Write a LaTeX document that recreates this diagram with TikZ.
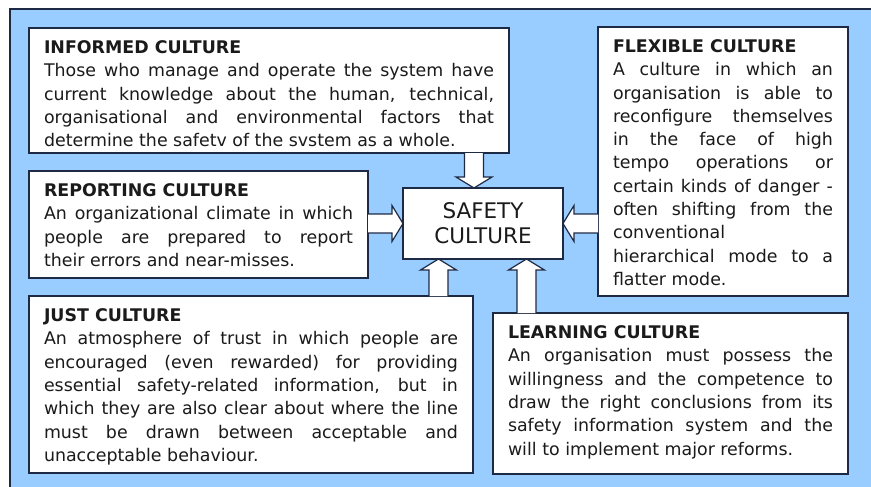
\documentclass[tikz,border=0pt]{standalone}
\usepackage{fontspec}
\setmainfont{DejaVu Sans}
\usetikzlibrary{calc}
\definecolor{bgblue}{HTML}{99CCFF}
\definecolor{edge}{HTML}{1E2A44}
\definecolor{ink}{HTML}{1A1A1A}
\tolerance=10000
\hyphenpenalty=10000
\newcommand\culturearrow[2]{%
  \coordinate (ca-h) at ($(#2)!11pt!(#1)$);
  \filldraw[arrowbody]
    ($(#1)!9.5pt!90:(#2)$) -- ($(ca-h)!9.5pt!90:(#2)$) -- ($(ca-h)!18pt!90:(#2)$)
    -- (#2) -- ($(ca-h)!18pt!-90:(#2)$) -- ($(ca-h)!9.5pt!-90:(#2)$)
    -- ($(#1)!9.5pt!-90:(#2)$);
}
\begin{document}
\begin{tikzpicture}[x=1pt,y=-1pt,
  cbox/.style={draw=edge, line width=1.2pt, fill=white, anchor=north west,
    inner xsep=15pt, inner ysep=0pt, outer sep=0pt, align=justify, text=ink,
    text height=25.5pt, font=\fontsize{17.4}{23.3}\selectfont},
  centrebox/.style={draw=edge, line width=1.2pt, fill=white, anchor=north west,
    minimum width=160pt, minimum height=71pt, inner sep=0pt, outer sep=0pt,
    align=center, text=ink, font=\fontsize{21.5}{25}\selectfont},
  arrowbody/.style={draw=edge, fill=white, line width=1.2pt, line join=miter}]
\useasboundingbox (0,0) rectangle (871,487);
\fill[bgblue] (10,9) rectangle (871,487);
\draw[edge, line width=1.3pt] (10,487) -- (10,9) -- (871,9);

\node[cbox, text width=450pt, text depth=99.5pt] (inf) at (29,28)
 {\textbf{INFORMED CULTURE}\\
  Those who manage and operate the system have\linebreak
  current knowledge about the human, technical,\linebreak
  organisational and environmental factors that\linebreak
  determine the safetv of the svstem as a whole.};

\node[cbox, text width=309pt, text depth=81.5pt] (rep) at (29,171)
 {\textbf{REPORTING CULTURE}\\
  An organizational climate in which\linebreak
  people are prepared to report\linebreak
  their errors and near-misses.};

\node[cbox, text width=414pt, text depth=151.5pt] (just) at (29,296)
 {\textbf{JUST CULTURE}\\
  An atmosphere of trust in which people are\linebreak
  encouraged (even rewarded) for providing\linebreak
  essential safety-related information, but in\linebreak
  which they are also clear about where the line\linebreak
  must be drawn between acceptable and\linebreak
  unacceptable behaviour.};

\node[cbox, text width=220pt, text depth=243.5pt] (flex) at (598,27)
 {\textbf{FLEXIBLE CULTURE}\\
  A culture in which an\linebreak
  organisation is able to\linebreak
  reconfigure themselves\linebreak
  in the face of high\linebreak
  tempo operations or\linebreak
  certain kinds of danger -\linebreak
  often shifting from the\linebreak
  conventional\newline
  hierarchical mode to a\linebreak
  flatter mode.};

\node[cbox, text width=325pt, text depth=135.5pt] (learn) at (493,313)
 {\textbf{LEARNING CULTURE}\\
  An organisation must possess the\linebreak
  willingness and the competence to\linebreak
  draw the right conclusions from its\linebreak
  safety information system and the\linebreak
  will to implement major reforms.};

\node[centrebox] (safety) at (403,188) {SAFETY\\CULTURE};

\coordinate (e1) at ($(safety.north)+(-9,0)$);
\coordinate (s1) at (e1 |- inf.south);
\culturearrow{s1}{e1}
\coordinate (e2) at (safety.west);
\coordinate (s2) at (rep.east |- safety.west);
\culturearrow{s2}{e2}
\coordinate (e3) at (safety.east);
\coordinate (s3) at (flex.west |- safety.east);
\culturearrow{s3}{e3}
\coordinate (e4) at ($(safety.south)+(-44.5,0)$);
\coordinate (s4) at (e4 |- just.north);
\culturearrow{s4}{e4}
\coordinate (e5) at ($(safety.south)+(43.5,0)$);
\coordinate (s5) at (e5 |- learn.north);
\culturearrow{s5}{e5}
\end{tikzpicture}
\end{document}
